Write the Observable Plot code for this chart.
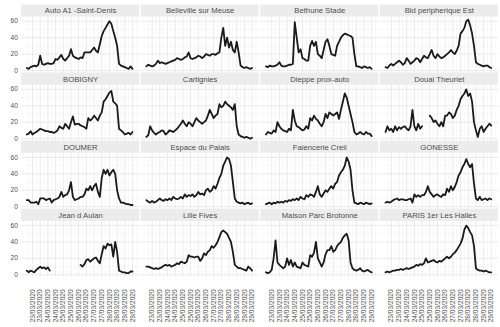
<!DOCTYPE html>
<html>
<head>
<meta charset="utf-8">
<script src="https://cdn.jsdelivr.net/npm/d3@7"></script>
<script src="https://cdn.jsdelivr.net/npm/@observablehq/plot@0.6"></script>
<style>
  html, body { margin: 0; padding: 0; background: #fff; }
</style>
</head>
<body>
<div id="chart"></div>
<script>
// Station names (facet titles), in reading order
const stations = [
  "Auto A1 -Saint-Denis", "Belleville sur Meuse", "Bethune Stade", "Bld peripherique Est",
  "BOBIGNY", "Cartignies", "Dieppe prox-auto", "Douai Theuriet",
  "DOUMER", "Espace du Palais", "Faiencerie Creil", "GONESSE",
  "Jean d Aulan", "Lille Fives", "Maison Parc Brotonne", "PARIS 1er Les Halles"
];

// Values read every 3 hours from 23/03/2020 00:00 (null = missing)
const autoA1 = [3,2,4,5,6,5,7,18, 8,7,8,9,8,8,9,14, 13,16,19,14,12,15,18,26, 18,16,15,14,16,15,22,22, 22,22,25,28,24,22,32,42, 48,52,56,60,57,48,40,30, 8,6,5,4,3,2,5,2];
const belleville = [5,7,6,5,6,8,12,9, 10,9,8,9,10,11,12,13, 15,14,13,14,16,17,22,15, 14,15,16,18,17,15,17,20, 19,18,20,20,19,21,22,40, 52,30,40,28,35,25,22,35, 22,6,4,3,4,3,2,3];
const bethune = [5,4,6,5,5,6,7,10, 6,5,5,6,7,7,8,59, 40,22,26,15,14,12,12,30, 36,30,35,20,18,15,25,35, 38,30,20,19,18,30,35,40, 43,45,44,43,42,40,20,5, 5,4,3,5,4,3,4,2];
const bldPeriph = [4,3,6,8,6,8,10,12, 10,7,9,15,12,8,10,12, 15,14,10,14,18,16,15,20, 25,18,15,20,17,15,16,18, 20,22,25,22,20,24,30,45, 48,52,60,62,55,45,30,10, 8,7,6,5,6,6,4,3];
const bobigny = [5,6,9,5,7,8,10,12, 11,10,9,9,8,8,7,8, 10,15,13,12,18,15,12,20, 27,17,18,18,16,15,14,12, 25,22,24,28,25,22,28,32, 45,48,52,56,58,45,43,40, 12,10,8,5,6,7,5,8];
const cartignies = [2,4,15,10,7,5,7,8, 10,9,5,7,10,9,8,10, 12,15,18,22,18,15,20,18, 15,20,25,22,20,18,20,22, 28,35,30,25,28,30,42,38, 40,45,42,40,38,35,42,15, 5,3,2,1,2,1,0,1];
const dieppe = [5,8,7,6,10,8,20,15, 12,10,9,8,12,10,35,22, 15,14,12,10,11,15,12,25, 22,28,24,22,18,15,20,30, 25,32,30,28,30,32,24,35, 45,55,50,40,30,20,8,5, 6,8,6,5,8,6,6,3];
const douai = [8,15,10,12,8,15,10,14, 12,14,15,12,10,15,35,15, 10,18,12,15,null,null,null,28, 25,20,22,18,15,20,15,28, 28,32,30,25,28,35,40,48, 52,55,60,52,55,45,20,10, 2,12,15,8,12,15,18,16];
const doumer = [8,8,5,5,5,6,3,10, 10,10,8,9,10,5,8,9, 10,12,18,12,14,15,20,30, 12,8,9,10,12,12,15,22, 20,25,20,25,28,18,12,35, 45,40,45,38,42,45,40,20, 10,5,5,4,3,3,2,2];
const espacePalais = [8,6,5,7,5,6,8,10, 8,7,9,8,10,8,12,10, 9,10,12,10,15,12,14,13, 15,12,14,18,15,16,14,20, 22,18,20,25,22,28,35,40, 50,55,60,58,50,30,10,6, 5,4,5,3,4,5,3,4];
const faiencerie = [3,4,5,3,5,4,6,5, 6,5,7,6,8,7,9,8, 10,8,12,10,9,14,12,15, 14,12,18,25,15,12,16,20, 18,22,25,22,28,30,38,42, 45,50,60,55,45,20,5,4, 3,5,4,3,5,4,3,4];
const gonesse = [5,6,5,6,8,9,10,8, 9,9,8,8,9,10,5,15, 12,14,12,14,14,18,25,18, 15,12,14,15,13,12,15,14, 22,18,25,20,24,30,38,42, 48,52,58,52,48,52,28,10, 8,12,8,9,10,8,10,9];
const jeanAulan = [5,3,5,4,3,6,8,10, 8,9,7,9,5,null,null,null, null,null,null,null,null,null,null,null, null,null,null,null,12,10,13,18, 19,16,18,20,21,17,14,25, 35,32,38,36,37,22,40,28, 5,4,3,3,2,2,4,4];
const lilleFives = [10,10,9,8,7,8,7,8, 9,11,12,11,12,10,11,12, 14,13,16,15,14,16,24,22, 22,21,22,22,17,20,26,24, 28,30,35,33,36,40,46,52, 54,52,50,45,40,28,12,10, 8,8,7,6,5,10,8,5];
const maisonParc = [3,2,3,6,20,42,15,12, 10,8,10,20,12,18,10,15, 10,9,8,15,12,11,10,24, 22,27,40,20,15,10,15,25, 30,30,35,28,30,35,38,40, 45,48,50,42,15,8,6,5, 6,8,5,4,5,6,4,3];
const parisHalles = [3,4,3,4,5,5,6,6, 7,6,7,8,7,8,9,10, 12,11,13,12,14,20,15,16, 17,18,16,15,17,16,18,20, 22,20,22,25,27,30,34,38, 44,55,60,57,52,48,35,8, 6,5,5,4,5,4,3,3];

const seriesList = [autoA1, belleville, bethune, bldPeriph, bobigny, cartignies, dieppe, douai,
  doumer, espacePalais, faiencerie, gonesse, jeanAulan, lilleFives, maisonParc, parisHalles];

// Time axis
const startTime = "2020-03-23T00:00Z";
const stepHours = 3;
const xTicks = [
  "2020-03-23T09:00Z", "2020-03-23T21:00Z", "2020-03-24T09:00Z", "2020-03-24T21:00Z",
  "2020-03-25T09:00Z", "2020-03-25T21:00Z", "2020-03-26T09:00Z", "2020-03-26T21:00Z",
  "2020-03-27T09:00Z", "2020-03-27T21:00Z", "2020-03-28T09:00Z", "2020-03-28T21:00Z",
  "2020-03-29T09:00Z", "2020-03-29T21:00Z"
];
const xDomain = ["2020-03-22T15:50Z", "2020-03-30T08:05Z"];
const yTicks = [0, 20, 40, 60];
const yMinor = [10, 30, 50];

// Build tables
const t0 = new Date(startTime).getTime();
const rows = stations.flatMap((name, k) => seriesList[k].map((v, i) => ({
  name, col: k % 4, row: Math.floor(k / 4),
  t: new Date(t0 + i * stepHours * 3600e3), v
})));
const strips = stations.map((name, k) => ({name, col: k % 4, row: Math.floor(k / 4)}));
const xMajor = xTicks.map(d => new Date(d));
const xMinorGrid = xMajor.map(d => new Date(d.getTime() - 6 * 3600e3))
  .concat([new Date(xMajor[xMajor.length - 1].getTime() + 6 * 3600e3)]);

const chart = Plot.plot({
  width: 500,
  height: 327,
  marginTop: 16.6,
  marginBottom: 50.2,
  marginLeft: 21,
  marginRight: 2.1,
  style: {fontFamily: "'Liberation Sans', Arial, sans-serif", background: "#fff", overflow: "visible"},
  fx: {axis: null, domain: [0, 1, 2, 3], paddingInner: 0.0125, paddingOuter: 0, round: false},
  fy: {axis: null, domain: [0, 1, 2, 3], paddingInner: 0.179, paddingOuter: 0, round: false},
  x: {type: "utc", domain: xDomain.map(d => new Date(d)), label: null},
  y: {domain: [-3.1, 65.1], label: null},
  marks: [
    Plot.rect(strips, {fx: "col", fy: "row", fill: "#ececec", insetTop: -12.2, insetBottom: 55.9}),
    Plot.text(strips, {fx: "col", fy: "row", text: "name", frameAnchor: "top", lineAnchor: "middle",
      dy: -6.1, fontSize: 7.7, fill: "#4d4d4d"}),
    Plot.ruleX(xMinorGrid, {stroke: "#f0f0f0", strokeWidth: 0.5}),
    Plot.ruleY(yMinor, {stroke: "#f0f0f0", strokeWidth: 0.5}),
    Plot.ruleX(xMajor, {stroke: "#e2e2e2", strokeWidth: 0.7}),
    Plot.ruleY(yTicks, {stroke: "#e2e2e2", strokeWidth: 0.7}),
    Plot.axisY({ticks: yTicks, tickSize: 0, tickPadding: 3.7, fontSize: 6.5, fill: "#4d4d4d", label: null}),
    Plot.axisX({ticks: xMajor, tickFormat: d3.utcFormat("%d/%m/%Y"), tickRotate: -90, tickSize: 0,
      tickPadding: 12, fontSize: 6.6, fill: "#4d4d4d", label: null}),
    Plot.line(rows, {fx: "col", fy: "row", x: "t", y: "v", z: "name",
      stroke: "#1a1a1a", strokeWidth: 1.8, strokeLinejoin: "round"})
  ]
});
document.getElementById("chart").appendChild(chart);
</script>
</body>
</html>
